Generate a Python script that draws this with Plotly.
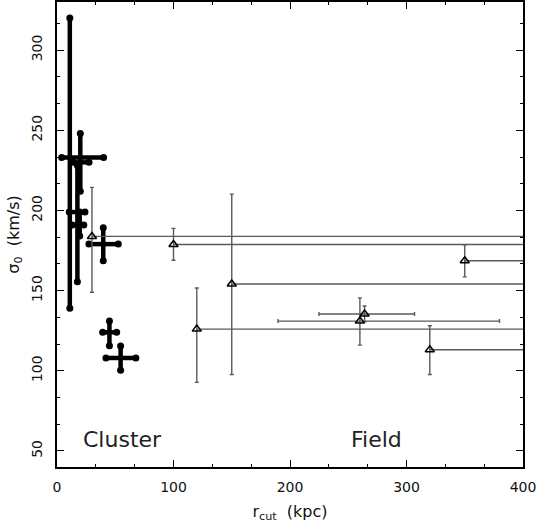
import numpy as np
import plotly.graph_objects as go

# ---------------- data ----------------
# Cluster galaxies: centre, and lower/upper ends of the error bars
cl_r = [11.0, 20.0, 17.5, 19.5, 39.7, 45.0, 54.6]
cl_s = [233.0, 230.0, 199.0, 191.0, 179.0, 124.0, 108.0]
cl_r_lo = [4.0, 14.0, 10.5, 13.0, 27.4, 39.2, 42.0]
cl_r_hi = [40.0, 27.5, 24.0, 23.0, 52.6, 51.2, 67.7]
cl_s_lo = [139.0, 212.0, 155.5, 184.0, 168.6, 115.6, 100.4]
cl_s_hi = [320.0, 248.0, 228.0, 199.0, 189.2, 131.0, 115.4]

# Field galaxies (r_hi = None -> lower limit, unbounded to the right)
f_r = [30.0, 100.0, 150.0, 120.0, 260.0, 264.0, 320.0, 350.0]
f_s = [183.8, 178.8, 154.1, 126.0, 131.0, 135.4, 113.1, 168.6]
f_s_lo = [149.0, 168.9, 97.7, 92.8, 116.0, 130.6, 97.7, 158.6]
f_s_hi = [214.4, 188.8, 210.2, 151.6, 145.5, 140.4, 128.1, 178.6]
f_r_lo = [30.0, 100.0, 150.0, 120.0, 189.7, 224.9, 320.0, 350.0]
f_r_hi = [None, None, None, None, 379.8, 306.9, None, None]

x_ticks = [0, 100, 200, 300, 400]
y_ticks = [50, 100, 150, 200, 250, 300]

# ---------------- figure ----------------
FONT = "DejaVu Sans"
fig = go.Figure()

cr = np.array(cl_r); cs = np.array(cl_s)
crl = np.array(cl_r_lo); crh = np.array(cl_r_hi)
csl = np.array(cl_s_lo); csh = np.array(cl_s_hi)

fig.add_trace(go.Scatter(
    x=cr, y=cs, mode="markers", marker=dict(size=1, color="black", opacity=0),
    error_x=dict(type="data", symmetric=False, array=crh - cr, arrayminus=cr - crl,
                 color="black", thickness=4.5, width=0),
    error_y=dict(type="data", symmetric=False, array=csh - cs, arrayminus=cs - csl,
                 color="black", thickness=4.5, width=0),
    showlegend=False, hoverinfo="skip"))

# round end caps of cluster error bars
cap_x = np.concatenate([crl, crh, cr, cr])
cap_y = np.concatenate([cs, cs, csl, csh])
fig.add_trace(go.Scatter(x=cap_x, y=cap_y, mode="markers",
                         marker=dict(symbol="circle", size=7, color="black"),
                         showlegend=False, hoverinfo="skip"))

fr = np.array(f_r); fs = np.array(f_s)
fsl = np.array(f_s_lo); fsh = np.array(f_s_hi)
frl = np.array(f_r_lo)
lim = np.array([h is None for h in f_r_hi])
frh = np.array([2000.0 if h is None else h for h in f_r_hi])

ERRC = "#5a5a5a"
for mask, capw in [(lim, 0), (~lim, 2)]:
    fig.add_trace(go.Scatter(
        x=fr[mask], y=fs[mask], mode="markers",
        marker=dict(symbol="triangle-up-open", size=8, color="black",
                    line=dict(width=1.5, color="black")),
        error_x=dict(type="data", symmetric=False, array=(frh - fr)[mask],
                     arrayminus=(fr - frl)[mask], color=ERRC, thickness=1.4, width=capw),
        error_y=dict(type="data", symmetric=False, array=(fsh - fs)[mask],
                     arrayminus=(fs - fsl)[mask], color=ERRC, thickness=1.4, width=2),
        showlegend=False, hoverinfo="skip"))

axis_common = dict(
    showgrid=False, zeroline=False, showline=True, linecolor="black", linewidth=1.5,
    mirror="ticks", ticks="inside", ticklen=7, tickwidth=1.2, tickcolor="black",
    tickfont=dict(family=FONT, size=14, color="#111"), automargin=False,
    ticklabeloverflow="allow",
)

fig.update_xaxes(range=[0, 400], tickvals=x_ticks,
                 minor=dict(dtick=100 / 3, tick0=0, ticks="inside", ticklen=3.5,
                            tickwidth=1, tickcolor="black"),
                 title=dict(text="r<sub>cut</sub>&nbsp; (kpc)",
                            font=dict(family=FONT, size=16, color="#111"), standoff=12),
                 ticklabelstandoff=6,
                 **axis_common)
fig.update_yaxes(range=[40, 330], tickvals=y_ticks, tickangle=-90,
                 minor=dict(dtick=50 / 3, tick0=0, ticks="inside", ticklen=3.5,
                            tickwidth=1, tickcolor="black"),
                 title=dict(text="σ<sub>0</sub>&nbsp; (km/s)",
                            font=dict(family=FONT, size=16, color="#111"), standoff=5),
                 ticklabelstandoff=8,
                 **axis_common)

fig.add_annotation(x=21, y=57, text="Cluster", showarrow=False, xanchor="left", yanchor="middle",
                   font=dict(family=FONT, size=22, color="#222"))
fig.add_annotation(x=251, y=57, text="Field", showarrow=False, xanchor="left", yanchor="middle",
                   font=dict(family=FONT, size=22, color="#222"))

fig.update_layout(width=536, height=531, margin=dict(l=57, r=13, t=2, b=64),
                  paper_bgcolor="white", plot_bgcolor="white")

fig.write_html("out.html", config={"displayModeBar": False},
               post_script="document.body.style.margin='0';document.body.style.overflow='hidden';")
